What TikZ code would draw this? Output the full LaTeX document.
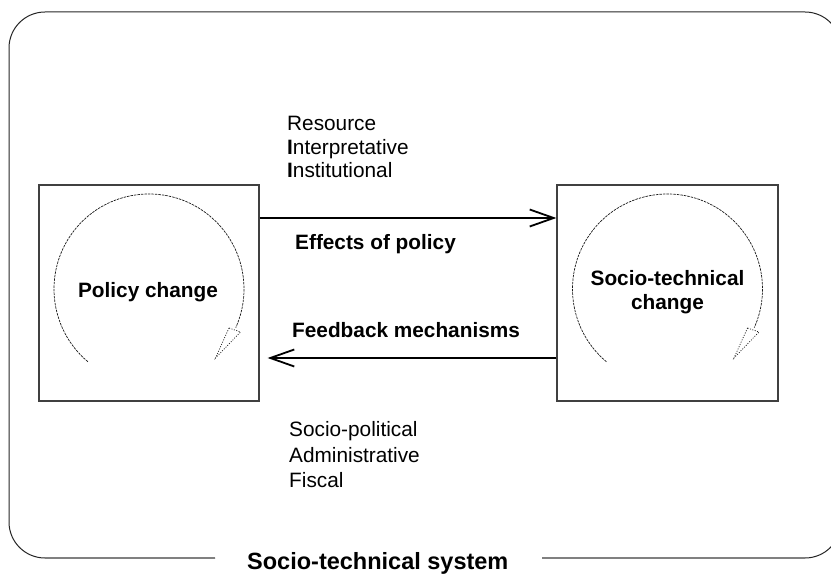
\documentclass[tikz,border=0pt]{standalone}
\usepackage{fontspec}
\setmainfont{Liberation Sans}
\usetikzlibrary{arrows.meta}
\tikzset{
  x=1pt,y=1pt,
  box/.style={draw=black!75,line width=1.2pt,minimum width=220pt,minimum height=216pt,inner sep=0pt},
  lbl/.style={font=\fontsize{20.8}{24}\selectfont,inner sep=0pt,anchor=base west},
  blbl/.style={font=\fontsize{20.8}{24}\selectfont\bfseries,inner sep=0pt},
  flow/.style={line width=2pt,-{Straight Barb[length=24pt,width=17pt,line width=1.8pt]}},
  arcline/.style={line width=0.7pt,black!90,dash pattern=on 2.5pt off 1pt},
  dotline/.style={line width=0.7pt,black!90,dash pattern=on 1pt off 1.5pt},
  cyc/.pic={
    \draw[arcline] (230:95) arc[start angle=230,end angle=-24,radius=95];
    \draw[dotline] (80,-39) -- (66.5,-69) -- (91.5,-43) -- cycle;
  }
}
\begin{document}
\begin{tikzpicture}
\useasboundingbox (0,0) rectangle (831,574);
\clip (0,0) rectangle (831,574);
% outer frame
\draw[line width=1pt,black!85,rounded corners=36pt] (215,16) -- (9,16) -- (9,562) -- (841,562) -- (841,16) -- (542,16);
\draw[line width=1.6pt,black!50] (45,16) -- (215,16) (542,16) -- (805,16);
\node[font=\fontsize{23.5}{26}\selectfont\bfseries,inner sep=0pt,anchor=base west] (sys) at (247,5) {Socio-technical system};
% boxes
\node[box] (lbox) at (149,281) {};
\node[box,minimum width=221pt] (rbox) at (667.5,281) {};
\pic at ([yshift=4pt]lbox.center) {cyc};
\pic at ([yshift=4pt]rbox.center) {cyc};
\node[blbl] (pc) at (148,282) {Policy change};
\node[blbl,align=center] (stc) at (667.5,282) {Socio-technical\\change};
% arrows
\draw[flow] ([yshift=75pt]lbox.east) -- ([yshift=75pt]rbox.west);
\draw[flow,shorten >=8pt] ([yshift=-65pt]rbox.west) -- ([yshift=-65pt]lbox.east);
% labels
\node[lbl] (r1) at (287,443) {Resource};
\node[lbl] (r2) at (287,419) {\textbf{I}nterpretative};
\node[lbl] (r3) at (287,396) {\textbf{I}nstitutional};
\node[lbl,font=\fontsize{20.8}{24}\selectfont\bfseries] (eff) at (295,324) {Effects of policy};
\node[lbl,font=\fontsize{20.8}{24}\selectfont\bfseries] (fb) at (292,236) {Feedback mechanisms};
\node[lbl] (s1) at (289,138) {Socio-political};
\node[lbl] (s2) at (289,112) {Administrative};
\node[lbl] (s3) at (289,87) {Fiscal};
\end{tikzpicture}
\end{document}
